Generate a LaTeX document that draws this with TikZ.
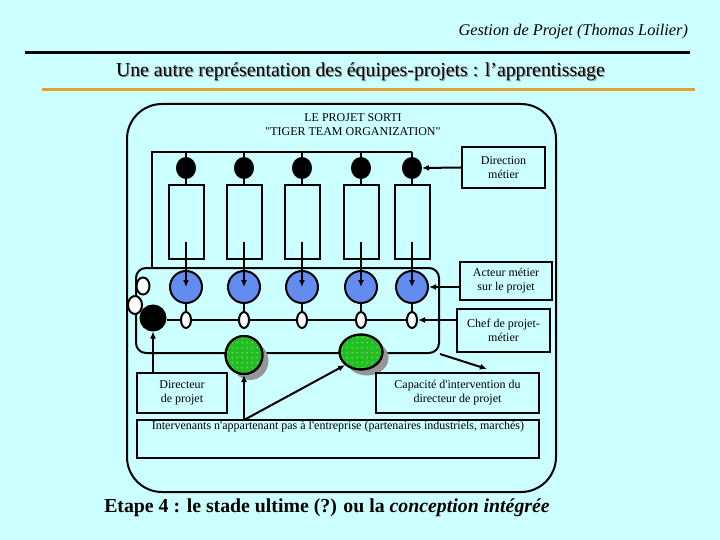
\documentclass[tikz,border=0pt]{standalone}
\usepackage{fontspec}
\setmainfont{Liberation Serif}[Ligatures=TeXOff]
\usetikzlibrary{shapes.geometric,arrows.meta,patterns,patterns.meta}
\definecolor{bg}{RGB}{204,255,255}
\definecolor{rulor}{RGB}{228,162,52}
\definecolor{bluec}{RGB}{100,140,240}
\definecolor{greenc}{RGB}{34,190,34}
\definecolor{shad}{RGB}{150,150,150}
\tikzdeclarepattern{
  name=sdots,
  type=uncolored,
  bottom left={(0pt,0pt)},
  top right={(5pt,5pt)},
  tile size={(5pt,5pt)},
  code={\pgfpathcircle{\pgfpoint{2.5pt}{2.5pt}}{0.6pt}\pgfusepath{fill}}
}
\begin{document}
\begin{tikzpicture}[x=1pt,y=-1pt,line width=2pt,
  >={Latex[length=7pt,width=6pt]},
  small/.style={font=\fontsize{12}{14}\selectfont},
  box/.style={draw,small,align=center,inner sep=1pt},
  tall/.style={draw,minimum width=35pt,minimum height=74pt,inner sep=0pt},
  bdot/.style={ellipse,fill=black,draw=black,minimum width=18pt,minimum height=20pt,inner sep=0pt},
  bcirc/.style={circle,fill=bluec,draw=black,minimum size=32pt,inner sep=0pt},
  sov/.style={ellipse,fill=white,draw=black,minimum width=10pt,minimum height=16pt,inner sep=0pt},
  gell/.style={ellipse,fill=greenc,draw=black,inner sep=0pt},
  sell/.style={ellipse,fill=shad,draw=none,inner sep=0pt}]
\fill[bg] (0,0) rectangle (720,540);
\useasboundingbox (0,0) rectangle (720,540);
% header
\node[anchor=east,font=\fontsize{16.3}{18}\selectfont\itshape,inner sep=0pt] (hdr) at (689,32) {Gestion de Projet (Thomas Loilier)};
\draw[line width=3pt] (25,53) -- (690,53);
\node[anchor=west,font=\fontsize{19.8}{22}\selectfont,inner sep=0pt,text=shad] (titles) at (116.2,73.2) {Une autre représentation des équipes-projets : l’apprentissage};
\node[anchor=west,font=\fontsize{19.8}{22}\selectfont,inner sep=0pt] (title) at (115,72) {Une autre représentation des équipes-projets : l’apprentissage};
\draw[rulor,line width=3pt] (42,90) -- (695,90);
% outer frame
\draw[rounded corners=35pt] (127,104) rectangle (556,492);
\node[small,align=center,inner sep=0pt] (proj) at (353,125) {LE PROJET SORTI\\"TIGER TEAM ORGANIZATION"};
% inner rounded frame
\node[draw,rounded corners=10pt,minimum width=303pt,minimum height=85pt,inner sep=0pt] (inner) at (287.5,310.5) {};
% columns
\foreach \i/\x in {1/186,2/244,3/302,4/361,5/412}{
  \node[bdot] (d\i) at (\x,168) {};
  \node[tall] (r\i) at (\x,222) {};
  \node[bcirc] (b\i) at (\x,287) {};
  \node[sov] (s\i) at (\x,320) {};
  \coordinate (t\i) at (\x,152);
  \coordinate (a\i) at (\x,242);
  \draw (t\i) -- (d\i.north);
  \draw (d\i.south) -- (r\i.north);
  \draw[->] (a\i) -- (b\i.center);
  \draw (b\i.south) -- (s\i.north);
}
% bus
\coordinate (busL) at (152,152);
\coordinate (busB) at (152,268);
\draw (busB) -- (busL) -- (t5);
% left small ovals and black circle
\node[ellipse,fill=white,draw=black,minimum width=13pt,minimum height=17pt,inner sep=0pt] (o1) at (143,286) {};
\node[ellipse,fill=white,draw=black,minimum width=14pt,minimum height=18pt,inner sep=0pt] (o2) at (135,305) {};
\node[circle,fill=black,draw=black,minimum size=25pt,inner sep=0pt] (blk) at (153,318) {};
\draw (blk.east |- s1) -- (s1.west);
\draw (s1) -- (s2) (s2) -- (s3) (s3) -- (s4) (s4) -- (s5);
% green ellipses with shadows
\node[sell,minimum width=37pt,minimum height=38pt] (g1s) at (250,361) {};
\node[sell,minimum width=43pt,minimum height=35pt] (g2s) at (367,358) {};
\node[gell,minimum width=37pt,minimum height=38pt] (g1) at (244,355) {};
\node[gell,minimum width=43pt,minimum height=35pt] (g2) at (361,352) {};
\fill[pattern=sdots,pattern color=white] (244,355) ellipse [x radius=17pt,y radius=18pt];
\fill[pattern=sdots,pattern color=white] (361,352) ellipse [x radius=20pt,y radius=16pt];
\draw (g1.center) ellipse [x radius=18.5pt,y radius=19pt];
\draw (g2.center) ellipse [x radius=21.5pt,y radius=17.5pt];
% right boxes
\node[box,minimum width=83pt,minimum height=41pt] (dir) at (503.5,167.5) {Direction\\métier};
\node[box,minimum width=92pt,minimum height=38pt] (act) at (506,281) {Acteur métier\\sur le projet};
\node[box,minimum width=93pt,minimum height=43pt] (chef) at (503.5,330.5) {Chef de projet-\\métier};
\draw[->] (dir.west) -- (d5.east);
\draw[->] (act.west |- b5.east) -- (b5.east);
\draw[->] (chef.west |- s5.east) -- (s5.east);
% bottom boxes
\node[box,minimum width=163pt,minimum height=40pt] (cap) at (457.5,393) {Capacité d'intervention du\\directeur de projet};
\node[box,minimum width=90pt,minimum height=40pt] (dirp) at (182,393) {Directeur\\de projet};
\node[draw,minimum width=402pt,minimum height=38pt,inner sep=0pt] (interv) at (338,439) {};
\node[small,anchor=north,inner sep=1pt] (itxt) at (interv.north) {Intervenants n'appartenant pas à l'entreprise (partenaires industriels, marchés)};
\coordinate (capin) at (487,369);
\draw[->] (inner.south east) -- (capin);
\draw[->] (dirp.north -| blk) -- (blk.south);
\coordinate (src) at (244,420);
\draw[->] (src) -- (g1.south);
\draw[->] (src) -- (g2.south west);
% footer
\node[font=\fontsize{19.8}{22}\selectfont\bfseries,inner sep=0pt] (etape) at (327,508) {Etape 4 : le stade ultime (?) ou la \textit{conception intégrée}};
\end{tikzpicture}
\end{document}
